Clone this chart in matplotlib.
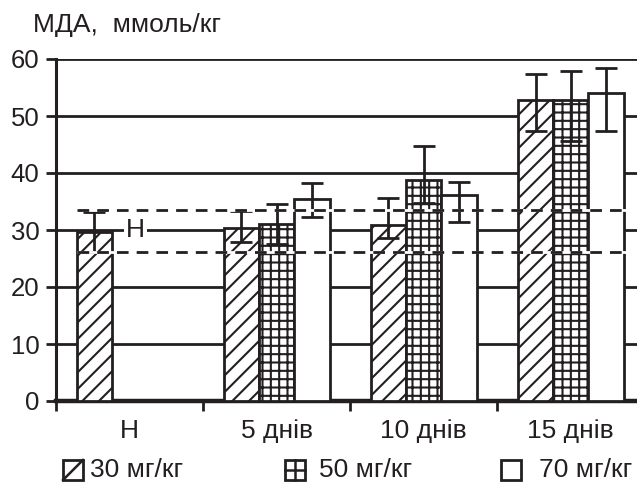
import numpy as np
import matplotlib
matplotlib.use("Agg")
import matplotlib.pyplot as plt
from matplotlib.patches import Rectangle
from matplotlib.lines import Line2D

plt.rcParams['font.family'] = ['Liberation Sans', 'DejaVu Sans']
plt.rcParams['hatch.linewidth'] = 1.5

K = '#231f20'

categories = ['Н', '5 днів', '10 днів', '15 днів']
series_names = ['30 мг/кг', '50 мг/кг', '70 мг/кг']
hatches = ['//', '++', '']

vals_30 = [29.6, 30.4, 30.9, 52.8]
lo_30 = [3.5, 2.5, 2.3, 5.4]
hi_30 = [3.6, 2.9, 4.7, 4.6]

vals_50 = [np.nan, 31.0, 38.8, 52.8]
lo_50 = [np.nan, 3.4, 4.1, 7.2]
hi_50 = [np.nan, 3.6, 5.9, 5.1]

vals_70 = [np.nan, 35.4, 36.1, 54.0]
lo_70 = [np.nan, 3.1, 4.7, 6.6]
hi_70 = [np.nan, 2.8, 2.3, 4.4]

norm_hi = 33.5
norm_lo = 26.2
norm_label = 'Н'
norm_mid = 30

y_label = 'МДА,  ммоль/кг'

fig = plt.figure(figsize=(6.37, 4.82), dpi=100)
ax = fig.add_axes([56/637, 1-401/482, 581/637, (401-59)/482])

x = np.arange(len(categories))
w = 0.24
offsets = [-w, 0, w]
all_vals = [vals_30, vals_50, vals_70]
all_lo = [lo_30, lo_50, lo_70]
all_hi = [hi_30, hi_50, hi_70]

for vals, lo, hi, off, h in zip(all_vals, all_lo, all_hi, offsets, hatches):
    v = np.array(vals, dtype=float)
    m = ~np.isnan(v)
    xs = x[m] + off
    ax.bar(xs, v[m], width=w, color='white', edgecolor=K, hatch=h,
           linewidth=2.0, zorder=3)
    ax.errorbar(xs, v[m], yerr=[np.array(lo)[m], np.array(hi)[m]], fmt='none',
                ecolor=K, elinewidth=2.0, capsize=7.8, capthick=2.0, zorder=5)

# norm band lines
x0, x1 = -0.36, 3.39
for yv in (norm_hi, norm_lo):
    ax.hlines(yv, x0, x1, colors='white', linewidth=2.0, zorder=6)
    ax.plot([x0, x1], [yv, yv], color=K, linewidth=2.0, dashes=(4.2, 2.9), zorder=7)
ax.text(0.04, norm_mid, norm_label, ha='center', va='center', fontsize=19, color=K,
        bbox=dict(facecolor='white', edgecolor='none', pad=1.5), zorder=4)

ax.set_xlim(-0.5, 3.45)
ax.set_ylim(0, 60)
ax.set_yticks(range(0, 61, 10))
ax.yaxis.grid(True, color=K, linewidth=2.0)
ax.set_axisbelow(True)

ax.set_xticks(x)
ax.set_xticklabels(categories, fontsize=19, color=K)
ax.set_xticks([-0.5, 0.5, 1.5, 2.5], minor=True)
ax.tick_params(axis='x', which='major', length=0, pad=13)
ax.tick_params(axis='x', which='minor', length=7, width=2.0, color=K, direction='out')
ax.tick_params(axis='y', length=7, width=2.0, color=K, labelsize=18.5, labelcolor=K, pad=5)

for s in ('top', 'right'):
    ax.spines[s].set_visible(False)
ax.spines['left'].set_linewidth(2.2)
ax.spines['left'].set_color(K)
ax.spines['bottom'].set_linewidth(3.2)
ax.spines['bottom'].set_color(K)

fig.text(33/637, 1-25/482, y_label, ha='left', va='center', fontsize=19, color=K)

# manual legend
leg_patch_x = [63, 285, 501]
leg_text_x = [90, 319, 539]
sz = 20
yc = 470
for i, name in enumerate(series_names):
    px = leg_patch_x[i]
    bx0, by0 = px/637, 1-(yc+sz/2)/482
    bw, bh = sz/637, sz/482
    fig.add_artist(Rectangle((bx0, by0), bw, bh, transform=fig.transFigure,
                             facecolor='white', edgecolor=K, linewidth=2.0))
    if i == 0:
        fig.add_artist(Line2D([bx0, bx0+bw], [by0, by0+bh], transform=fig.transFigure,
                              color=K, linewidth=1.8))
    elif i == 1:
        fig.add_artist(Line2D([bx0+bw/2, bx0+bw/2], [by0, by0+bh], transform=fig.transFigure,
                              color=K, linewidth=1.8))
        fig.add_artist(Line2D([bx0, bx0+bw], [by0+bh/2, by0+bh/2], transform=fig.transFigure,
                              color=K, linewidth=1.8))
    fig.text(leg_text_x[i]/637, 1-yc/482, name, ha='left', va='center', fontsize=19, color=K)

fig.savefig('out.png', dpi=100)
